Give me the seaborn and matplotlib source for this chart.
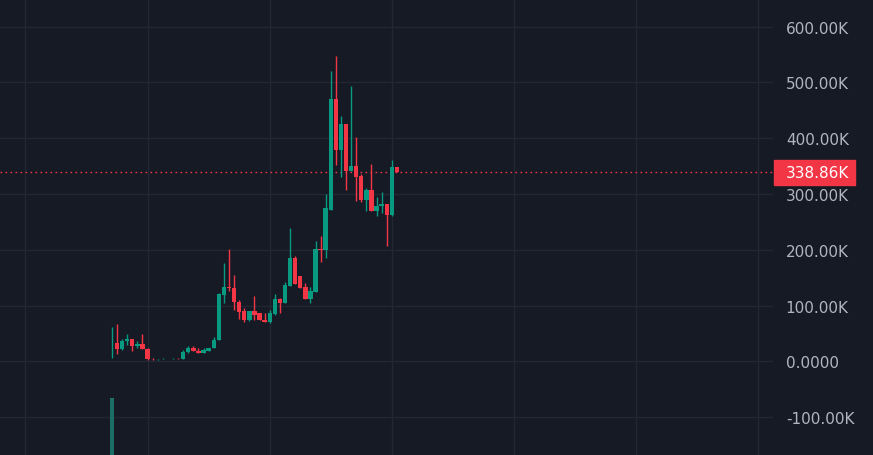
"""Candlestick chart, dark theme, price scale on the right"""

import matplotlib.pyplot as plt
from matplotlib.patches import Rectangle
import seaborn as sns
import numpy as np

# prices in thousands, one candle per period
opens = [33, 34, 23, 36, 41, 27, 32, 23, 4.5, 4, 4.3, 4.8, 4.2, 4.8,
         3.6, 17, 25, 19, 15.5, 18.5, 25, 38, 119, 133, 131, 107, 90, 74,
         90, 86, 75, 70, 85, 112.5, 105, 136, 185, 154, 133, 112.5, 124.5,
         202, 199, 272, 469.6, 379, 425, 341.6, 350.5, 332.7, 289, 307, 270,
         278, 282, 263, 347.7]
highs = [62, 67, 41, 50, 41, 36, 50, 25, 5.5, 5, 6, 5, 7, 7,
         21, 27, 28.5, 24, 25, 25, 44, 123, 176, 202, 155, 110, 96, 90,
         117, 86, 86, 92, 121, 113, 143, 239, 189, 154, 140, 134, 216.5,
         225.5, 300, 521, 548, 440, 425, 493, 403, 335, 311, 353.6, 294.6,
         303.6, 282, 360.7, 347.7]
lows = [7, 13, 20, 29, 18, 24, 23, 3, 3.5, 3.5, 4, 4, 4, 4,
        3.6, 15.5, 18, 15.5, 15, 18, 25, 38, 104, 127, 93, 77, 71, 72,
        75, 74, 70, 69, 84, 87, 104, 136, 139, 132, 112.5, 105, 124.5,
        178, 185, 271, 352, 331, 307, 341, 288, 286, 270, 270, 261,
        266, 206, 261, 338.86]
closes = [34, 23, 37, 41, 27, 32, 23, 4, 4, 4.6, 4.8, 4.2, 4.8, 4.2,
          17.3, 25, 18.5, 15.5, 20, 25, 39, 120, 133, 131, 107, 88, 74, 90,
          84, 74, 70, 86, 112.5, 105, 137.5, 185, 139, 132, 112.5, 125.5, 202,
          199, 274.5, 469.6, 379, 425, 341.6, 350.5, 331, 289, 307, 270, 279,
          282, 263, 347.7, 338.86]
# volume (arbitrary units): only the first period is visible
volumes = [1.0] + [0.0] * 56

price_ticks = [-100, 0, 100, 200, 300, 400, 500, 600]
price_labels = ["-100.00K", "0.0000", "100.00K", "200.00K", "300.00K",
                "400.00K", "500.00K", "600.00K"]
time_grid = [-17, 7, 31, 55, 79, 103, 127]
last_label = "338.86K"

BG = "#161a25"
GRID = "#232733"
UP = "#089981"
DOWN = "#f23645"
TEXT = "#b2b5be"

sns.set_style("dark", {"axes.facecolor": BG, "figure.facecolor": BG})

W, H = 873, 456
fig = plt.figure(figsize=(W / 100, H / 100), dpi=100)
plot_w = 773 / W
ax = fig.add_axes([0, 0, plot_w, 1])
ax.set_facecolor(BG)

# volume histogram at the bottom (twin axis made first, it resets tick sides)
ax2 = ax.twinx()
ax2.bar(np.arange(len(volumes)), volumes, width=0.8, color="#1d6f65",
        linewidth=0, zorder=1)
ax2.set_ylim(0, max(volumes) * H / 57)
ax2.set_yticks([])
ax2.patch.set_visible(False)
for s in ax2.spines.values():
    s.set_visible(False)

o = np.array(opens)
h = np.array(highs)
l = np.array(lows)
c = np.array(closes)
idx = np.arange(len(o))
colors = np.where(c >= o, UP, DOWN)

# wicks then bodies
ax.vlines(idx, l, h, colors=colors, linewidth=1.0, zorder=3)
body = np.maximum(np.abs(c - o), 0.4)
ax.bar(idx, body, bottom=np.minimum(o, c), width=0.86, color=colors,
       linewidth=0, zorder=4)

# last price line
ax.axhline(closes[-1], color=DOWN, linestyle=(0, (1.2, 2.4)), linewidth=1, zorder=2)

ax.set_xlim(-22.0, 129.9)
ax.set_ylim(-167.5, 649.3)
ax.set_xticks(time_grid)
ax.set_xticklabels([])
ax.set_yticks(price_ticks)
ax.set_yticklabels(price_labels)
ax.yaxis.tick_right()
ax.tick_params(axis="y", length=0, pad=9.2, labelsize=11, labelcolor=TEXT,
               labelleft=False, labelright=True)
ax.tick_params(axis="x", length=0)
for lab in ax.get_yticklabels():
    lab.set_horizontalalignment("left")
ax.grid(True, color=GRID, linewidth=1)
for s in ax.spines.values():
    s.set_visible(False)

# last price tag on the scale
fig.canvas.draw()
_, y_disp = ax.transData.transform((0, closes[-1]))
y_frac = y_disp / H
tag_h = 25 / H
fig.patches.append(Rectangle((774 / W, y_frac - tag_h / 2), 81 / W, tag_h,
                             transform=fig.transFigure, color=DOWN, zorder=5))
fig.text(786 / W, y_frac, last_label, color="white", fontsize=11,
         va="center", ha="left", zorder=6)

fig.savefig("out.png", dpi=100, facecolor=BG)
